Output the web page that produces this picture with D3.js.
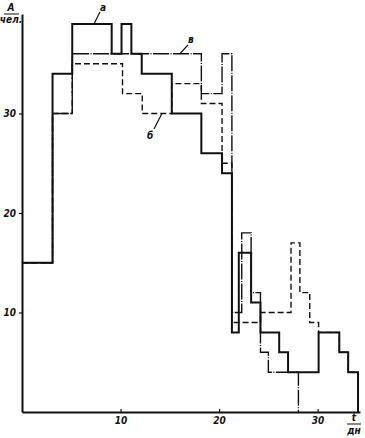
<!DOCTYPE html>
<html>
<head>
<meta charset="utf-8">
<script src="https://cdn.jsdelivr.net/npm/d3@7"></script>
<style>
  body { margin: 0; background: #fff; }
  svg text { font-family: "Liberation Sans Narrow", "DejaVu Sans Condensed", sans-serif; font-style: italic; font-weight: bold; font-size: 10px; fill: #111; }
</style>
</head>
<body>
<div id="graph"></div>
<script>
// series а (solid)
const daysA = [0, 3.1, 5.1, 9.1, 10.1, 11.1, 12.15, 15.2, 18.2, 20.3, 21.3, 22, 23.25, 24.2, 26.1, 27, 30.1, 32.2, 33.1, 34.1];
const countsA = [15, 34, 39, 36, 39, 36, 34, 30, 26, 24, 8, 16, 11, 8, 6, 4, 8, 6, 4, 0];
// series б (dashed)
const daysB = [0, 3.1, 5.1, 10.2, 12.2, 15.2, 18.2, 20.3, 21.3, 24.2, 27.3, 28.2, 29.2, 30.1, 32.2, 33.1, 34.1];
const countsB = [15, 30, 35, 32, 30, 33, 31, 25, 9, 10, 17, 12, 9, 8, 6, 4, 0];
// series в (dash-dot)
const daysV = [0, 3.1, 5.1, 18.2, 20.3, 21.3, 22.3, 23.25, 24.2, 25, 28.05];
const countsV = [15, 30, 36, 32, 36, 10, 18, 12, 6, 4, 0];

const xTicks = [10, 20, 30];
const yTicks = [10, 20, 30];

const w = 365;
const h = 438;
const svg = d3.select('#graph')
  .append('svg')
  .attr('width', w)
  .attr('height', h);

const xScale = d3.scaleLinear().domain([0, 34.3]).range([22, 360]);
const yScale = d3.scaleLinear().domain([0, 40]).range([412, 14]);

const line = d3.line()
  .x(d => xScale(d[0]))
  .y(d => yScale(d[1]))
  .curve(d3.curveStepAfter);

function pts(days, counts) {
  return days.map((t, i) => [t, counts[i]]);
}

//series
svg.append('path')
  .attr('d', line(pts(daysV, countsV)))
  .attr('fill', 'none')
  .attr('stroke', '#111')
  .attr('stroke-width', 1.4)
  .attr('stroke-dasharray', '16,1.5,1,1.5');

svg.append('path')
  .attr('d', line(pts(daysB, countsB)))
  .attr('fill', 'none')
  .attr('stroke', '#111')
  .attr('stroke-width', 1.4)
  .attr('stroke-dasharray', '6,3');

svg.append('path')
  .attr('d', line(pts(daysA, countsA)))
  .attr('fill', 'none')
  .attr('stroke', '#111')
  .attr('stroke-width', 2);

//axes
const xAxis = d3.axisBottom(xScale).tickValues(xTicks).tickSizeInner(-3).tickSizeOuter(0).tickPadding(5);
const yAxis = d3.axisLeft(yScale).tickValues(yTicks).tickSizeInner(3).tickSizeOuter(0).tickPadding(3);

const gx = svg.append('g')
  .attr('transform', 'translate(0,' + yScale(0) + ')')
  .call(xAxis);
const gy = svg.append('g')
  .attr('transform', 'translate(' + xScale(0) + ',0)')
  .call(yAxis);

[gx, gy].forEach(g => {
  g.select('.domain').attr('stroke', '#111').attr('stroke-width', 2);
  g.selectAll('.tick line').attr('stroke', '#111').attr('stroke-width', 1.2);
  g.selectAll('.tick text').attr('font-family', null).attr('font-size', null);
});

//axis titles
svg.append('text').text('A').attr('x', 11).attr('y', 11).attr('text-anchor', 'middle');
svg.append('line').attr('x1', 4).attr('x2', 19).attr('y1', 14).attr('y2', 14)
  .attr('stroke', '#111').attr('stroke-width', 1);
svg.append('text').text('чел.').attr('x', 11).attr('y', 23).attr('text-anchor', 'middle');

svg.append('text').text('t').attr('x', 354).attr('y', 421).attr('text-anchor', 'middle');
svg.append('line').attr('x1', 347).attr('x2', 361).attr('y1', 424).attr('y2', 424)
  .attr('stroke', '#111').attr('stroke-width', 1);
svg.append('text').text('дн').attr('x', 354).attr('y', 434).attr('text-anchor', 'middle');

//series labels with leaders
const labels = [
  {name: 'а', at: [7.3, 39], tx: 100, ty: 11, lx: 100, ly: 12},
  {name: 'в', at: [16.0, 36], tx: 188, ty: 43, lx: 188, ly: 45},
  {name: 'б', at: [14.2, 30], tx: 147, ty: 139, lx: 154, ly: 129}
];
labels.forEach(l => {
  svg.append('line')
    .attr('x1', xScale(l.at[0])).attr('y1', yScale(l.at[1]))
    .attr('x2', l.lx).attr('y2', l.ly)
    .attr('stroke', '#111').attr('stroke-width', 1.2);
  svg.append('text').text(l.name).attr('x', l.tx).attr('y', l.ty);
});
</script>
</body>
</html>
